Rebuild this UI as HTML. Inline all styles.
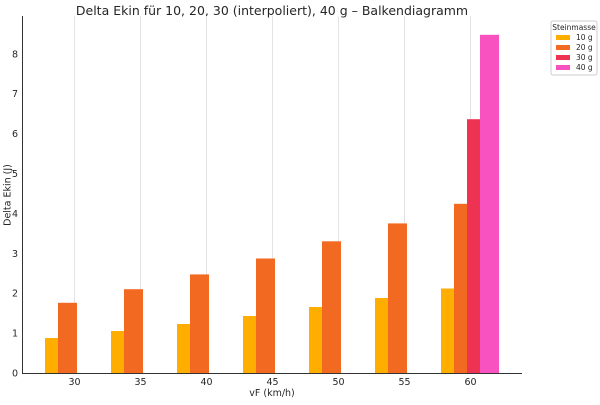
<!DOCTYPE html><html><head><style>body{margin:0;background:#fff}</style></head><body>
<svg width="600" height="400" xmlns="http://www.w3.org/2000/svg" font-family="DejaVu Sans, Liberation Sans, sans-serif">
<rect width="600" height="400" fill="#fff"/>
<text x="272" y="15" font-size="12.5" text-anchor="middle" fill="#262626">Delta Ekin für 10, 20, 30 (interpoliert), 40 g – Balkendiagramm</text>
<g stroke="#e3e3e3" stroke-width="1">
<line x1="74.5" y1="16" x2="74.5" y2="373"/><line x1="140.5" y1="16" x2="140.5" y2="373"/><line x1="206.5" y1="16" x2="206.5" y2="373"/><line x1="272.5" y1="16" x2="272.5" y2="373"/><line x1="338.5" y1="16" x2="338.5" y2="373"/><line x1="404.5" y1="16" x2="404.5" y2="373"/><line x1="470.5" y1="16" x2="470.5" y2="373"/>
</g>
<g fill="#FFAE00">
<rect x="45" y="338" width="13" height="35"/><rect x="111" y="331" width="13" height="42"/><rect x="177" y="324" width="13" height="49"/><rect x="243" y="316" width="13" height="57"/><rect x="309" y="307" width="13" height="66"/><rect x="375" y="298" width="13" height="75"/><rect x="441" y="288.5" width="13" height="84.5"/>
</g>
<g fill="#F26922">
<rect x="58" y="302.8" width="19" height="70.2"/><rect x="124" y="289.2" width="19" height="83.8"/><rect x="190" y="274.4" width="19" height="98.6"/><rect x="256" y="258.5" width="19" height="114.5"/><rect x="322" y="241.3" width="19" height="131.7"/><rect x="388" y="223.4" width="19" height="149.6"/><rect x="454" y="203.8" width="13" height="169.2"/>
</g>
<rect x="467" y="119.2" width="13" height="253.8" fill="#EE3352"/>
<rect x="480" y="34.8" width="19" height="338.2" fill="#F852C1"/>
<g stroke="#333" stroke-width="1"><line x1="22.5" y1="16" x2="22.5" y2="373.5"/><line x1="22" y1="373.5" x2="522" y2="373.5"/></g>
<g font-size="9.5" fill="#262626" text-anchor="end">
<text x="18" y="376.5">0</text><text x="18" y="336.6">1</text><text x="18" y="296.7">2</text><text x="18" y="256.8">3</text><text x="18" y="216.9">4</text><text x="18" y="177">5</text><text x="18" y="137.1">6</text><text x="18" y="97.2">7</text><text x="18" y="57.3">8</text>
</g>
<g font-size="9.5" fill="#262626" text-anchor="middle">
<text x="74.5" y="385">30</text><text x="140.5" y="385">35</text><text x="206.5" y="385">40</text><text x="272.5" y="385">45</text><text x="338.5" y="385">50</text><text x="404.5" y="385">55</text><text x="470.5" y="385">60</text>
<text x="272" y="396">vF (km/h)</text>
</g>
<text x="10.5" y="195" font-size="9.5" fill="#262626" text-anchor="middle" transform="rotate(-90 10.5 195)">Delta Ekin (J)</text>
<rect x="551" y="21" width="46" height="54" fill="#fff" stroke="#ccc" rx="2"/>
<text x="574" y="30" font-size="7.5" fill="#262626" text-anchor="middle">Steinmasse</text>
<g font-size="7.5" fill="#262626">
<rect x="556" y="35" width="14" height="5" fill="#FFAE00"/><text x="576" y="40">10 g</text>
<rect x="556" y="45" width="14" height="5" fill="#F26922"/><text x="576" y="50">20 g</text>
<rect x="556" y="55" width="14" height="5" fill="#EE3352"/><text x="576" y="60">30 g</text>
<rect x="556" y="65" width="14" height="5" fill="#F852C1"/><text x="576" y="70">40 g</text>
</g>
</svg></body></html>
